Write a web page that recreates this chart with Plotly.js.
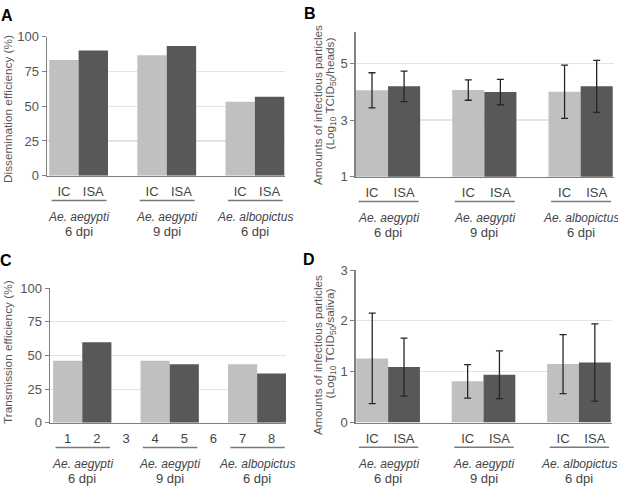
<!DOCTYPE html>
<html>
<head>
<meta charset="utf-8">
<script src="https://cdn.plot.ly/plotly-3.0.1.min.js"></script>
<style>
  html, body { margin: 0; padding: 0; background: #ffffff; }
  #chart { width: 618px; height: 486px; }
</style>
</head>
<body>
<div id="chart"></div>
<script>
// ---------- data ----------
const seriesNames = ["IC", "ISA"];
const speciesLabels = ["Ae. aegypti", "Ae. aegypti", "Ae. albopictus"];
const dpiLabels = ["6 dpi", "9 dpi", "6 dpi"];
const transTickLabels = ["1", "2", "3", "4", "5", "6", "7", "8"];

// A: dissemination efficiency (%)
const dissIC  = [83.2, 86.6, 53.2];
const dissISA = [90.0, 93.3, 56.8];

// B: infectious particles in heads (log10 TCID50/heads)
const headsIC     = [4.05, 4.06, 4.00];
const headsICErr  = [0.62, 0.36, 0.94];
const headsISA    = [4.19, 3.99, 4.19];
const headsISAErr = [0.54, 0.45, 0.92];

// C: transmission efficiency (%)
const transIC  = [46.1, 46.1, 43.5];
const transISA = [59.8, 43.5, 36.7];

// D: infectious particles in saliva (log10 TCID50/saliva)
const salivaIC     = [1.26, 0.81, 1.15];
const salivaICErr  = [0.89, 0.33, 0.58];
const salivaISA    = [1.09, 0.94, 1.18];
const salivaISAErr = [0.57, 0.47, 0.76];

// ---------- styling / layout helpers ----------
const W = 618, H = 486;
const FONT = "Liberation Sans, Arial, Helvetica, sans-serif";
const IC_COLOR = "#c0c0c0";
const ISA_COLOR = "#585858";
const AXIS_COLOR = "#808080";
const GRID_COLOR = "#e4e4e4";
const TEXT_COLOR = "#555555";

const px = v => v / W;
const py = v => 1 - v / H;
const slot = (g, s) => g * 3 + s + 1;   // group g, series s -> slot on x axis
const groupIdx = [0, 1, 2];

const data = [];
const annotations = [];
const shapes = [];
const layout = {
  width: W, height: H,
  margin: {l: 0, r: 0, t: 0, b: 0},
  paper_bgcolor: "#ffffff",
  plot_bgcolor: "rgba(0,0,0,0)",
  showlegend: false,
  barmode: "overlay",
  font: {family: FONT, color: TEXT_COLOR},
  annotations: annotations,
  shapes: shapes
};

function addPanel(p) {
  const xs = p.n === 1 ? "" : String(p.n);
  const xName = "x" + xs, yName = "y" + xs;
  const series = [
    {vals: p.ic, err: p.icErr, color: IC_COLOR, s: 0},
    {vals: p.isa, err: p.isaErr, color: ISA_COLOR, s: 1}
  ];
  series.forEach(sr => {
    const tr = {
      type: "bar",
      x: groupIdx.map(g => slot(g, sr.s)),
      y: sr.vals,
      width: 1,
      name: seriesNames[sr.s],
      marker: {color: sr.color, line: {width: 0}},
      xaxis: xName, yaxis: yName,
      hoverinfo: "skip"
    };
    if (sr.err) {
      tr.error_y = {type: "data", array: sr.err, visible: true,
                    color: "#262626", thickness: 1.3, width: 3.5};
    }
    data.push(tr);
  });

  const tickvals = p.tickLabels ? transTickLabels.map((t, i) => i + 1)
                                : [].concat(...groupIdx.map(g => [slot(g, 0), slot(g, 1)]));
  const ticktext = p.tickLabels ? p.tickLabels
                                : [].concat(...groupIdx.map(() => seriesNames));

  layout["xaxis" + xs] = {
    domain: [px(p.x0), px(p.x1)],
    range: p.xr,
    anchor: yName,
    showline: true, linecolor: AXIS_COLOR, linewidth: 1.4,
    showgrid: false, zeroline: false,
    ticks: "", tickvals: tickvals, ticktext: ticktext,
    tickfont: {family: FONT, size: 13, color: "#444444"},
    ticklabelstandoff: 3,
    fixedrange: true
  };
  layout["yaxis" + xs] = {
    domain: [py(p.yb), py(p.yt)],
    range: p.yr,
    anchor: xName,
    showline: true, linecolor: AXIS_COLOR, linewidth: 1.4,
    showgrid: true, gridcolor: GRID_COLOR, gridwidth: 1.2,
    zeroline: false,
    ticks: "outside", ticklen: 4, tickcolor: AXIS_COLOR, tickwidth: 1,
    tickvals: p.yticks,
    tickfont: {family: FONT, size: 13, color: TEXT_COLOR},
    fixedrange: true
  };

  // group underlines and group labels
  groupIdx.forEach(g => {
    shapes.push({
      type: "line", xref: xName, yref: "paper",
      x0: slot(g, 0) - 0.42, x1: slot(g, 1) + 0.45,
      y0: py(p.yb + 24.8), y1: py(p.yb + 24.8),
      line: {color: "#7a7a7a", width: 1.5}
    });
    annotations.push({
      xref: xName, yref: "paper",
      x: slot(g, 0) + 0.5, y: py(p.yb + 41), yanchor: "middle", xanchor: "center",
      text: "<i>" + speciesLabels[g] + "</i>", showarrow: false,
      font: {family: FONT, size: 12, color: "#444444"}
    });
    annotations.push({
      xref: xName, yref: "paper",
      x: slot(g, 0) + 0.5, y: py(p.yb + 55.5), yanchor: "middle", xanchor: "center",
      text: dpiLabels[g], showarrow: false,
      font: {family: FONT, size: 13, color: "#444444"}
    });
  });

  // panel letter
  annotations.push({
    xref: "paper", yref: "paper", x: px(p.lx), y: py(p.ly),
    xanchor: "center", yanchor: "middle", showarrow: false,
    text: "<b>" + p.letter + "</b>",
    font: {family: FONT, size: 16, color: "#000000"}
  });
  // y titles (rotated)
  p.titles.forEach(t => {
    annotations.push({
      xref: "paper", yref: "paper", x: px(t.x), y: py(t.y),
      xanchor: "center", yanchor: "middle", showarrow: false,
      textangle: -90, text: t.text,
      font: {family: FONT, size: 11.8, color: TEXT_COLOR}
    });
  });
}

addPanel({
  n: 1, letter: "A", lx: 7, ly: 15,
  x0: 47, x1: 285, yb: 175.7, yt: 36.7,
  xr: [0.424, 8.525], yr: [0, 100], yticks: [0, 25, 50, 75, 100],
  ic: dissIC, isa: dissISA,
  titles: [{x: 8, y: 109, text: "Dissemination efficiency (%)"}]
});
addPanel({
  n: 2, letter: "B", lx: 310, ly: 14,
  x0: 355.7, x1: 614, yb: 176.7, yt: 31.7,
  xr: [0.492, 8.54], yr: [1, 6.12], yticks: [1, 3, 5],
  ic: headsIC, icErr: headsICErr, isa: headsISA, isaErr: headsISAErr,
  titles: [
    {x: 318, y: 105, text: "Amounts of infectious particles"},
    {x: 329.5, y: 94, text: "(Log<sub>10</sub> TCID<sub>50</sub>/heads)"}
  ]
});
addPanel({
  n: 3, letter: "C", lx: 6, ly: 260,
  x0: 50, x1: 286, yb: 422.7, yt: 288.3,
  xr: [0.393, 8.49], yr: [0, 100], yticks: [0, 25, 50, 75, 100],
  ic: transIC, isa: transISA, tickLabels: transTickLabels,
  titles: [{x: 8, y: 352, text: "Transmission efficiency (%)"}]
});
addPanel({
  n: 4, letter: "D", lx: 309, ly: 259,
  x0: 355.7, x1: 612, yb: 422.5, yt: 270,
  xr: [0.48, 8.54], yr: [0, 3], yticks: [0, 1, 2, 3],
  ic: salivaIC, icErr: salivaICErr, isa: salivaISA, isaErr: salivaISAErr,
  titles: [
    {x: 318, y: 355, text: "Amounts of infectious particles"},
    {x: 329.5, y: 344, text: "(Log<sub>10</sub> TCID<sub>50</sub>/saliva)"}
  ]
});

Plotly.newPlot("chart", data, layout, {displayModeBar: false, staticPlot: true});
</script>
</body>
</html>
